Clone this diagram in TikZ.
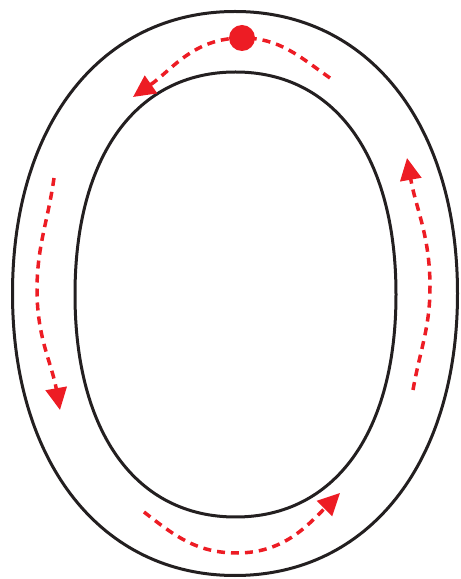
\documentclass[tikz,border=0pt]{standalone}
\usetikzlibrary{arrows.meta}
\definecolor{trackred}{RGB}{237,28,36}
\definecolor{trackline}{RGB}{35,31,32}

\begin{document}
\begin{tikzpicture}[
  x=1pt, y=1pt,
  >={Triangle[length=22pt,width=21pt]},
  track/.style={draw=trackline, line width=3pt},
  flow/.style={->, draw=trackred, line width=3.5pt, dash pattern=on 8pt off 6pt},
  ball/.style={circle, fill=trackred, inner sep=0pt, minimum size=26pt}
]
\useasboundingbox (0,0) rectangle (461,579);

% outer and inner edge of the track
\draw[track] (457.5,285.5)
  .. controls (457.5,454.7) and (368.8,567.5) .. (235,567.5)
  .. controls (101.2,567.5) and (12.5,454.7) .. (12.5,285.5)
  .. controls (12.5,116.3) and (101.2,3.5) .. (235,3.5)
  .. controls (368.8,3.5) and (457.5,116.3) .. cycle;
\draw[track] (396,284.5)
  .. controls (396,422.5) and (335,507) .. (235.5,507)
  .. controls (136,507) and (75,422.5) .. (75,284.5)
  .. controls (75,146.5) and (136,62) .. (235.5,62)
  .. controls (335,62) and (396,146.5) .. cycle;

% way round the track
\coordinate (top) at (242,541);
\coordinate (topleft) at (133,482);
\coordinate (left) at (37,289);
\coordinate (bottom) at (237,26);
\coordinate (right) at (430,292);

\draw[flow] (330,501) to[out=145, in=0] (top) to[out=180, in=35] (topleft);
\draw[flow] (54,401) to[out=-98, in=90] (left) to[out=-90, in=100] (60,169);
\draw[flow] (144,67) to[out=-38, in=180] (bottom) to[out=0, in=-135] (340,86);
\draw[flow] (413,189) to[out=80, in=-90] (right) to[out=90, in=-80] (407,421);

\node[ball] (start) at (top) {};
\end{tikzpicture}
\end{document}
